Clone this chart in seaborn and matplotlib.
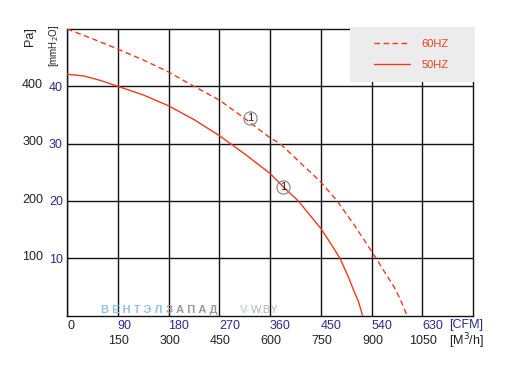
import matplotlib
matplotlib.use("Agg")
import matplotlib.pyplot as plt
from matplotlib.patches import Rectangle
import matplotlib.transforms as mtransforms
import pandas as pd
import seaborn as sns

# curve data: airflow in CFM, pressure in mmH2O
cfm_50 = [0, 30, 60, 90, 135, 180, 225, 270, 315, 360, 383, 410, 430, 450, 468, 484, 499, 510, 517, 524]
mm_50 = [42.1, 41.8, 41.0, 40.0, 38.5, 36.6, 34.2, 31.4, 28.2, 24.8, 22.5, 20.0, 17.6, 15.2, 12.5, 10.0, 6.7, 4.0, 2.4, 0]
cfm_60 = [0, 45, 90, 135, 180, 225, 270, 315, 360, 378, 410, 450, 479, 510, 530, 548, 565, 580, 592, 603]
mm_60 = [50, 48.3, 46.5, 44.6, 42.5, 40.0, 37.6, 34.4, 31.0, 30.0, 27.0, 23.3, 20.0, 15.7, 12.7, 10.0, 7.3, 5.0, 2.6, 0]

cfm_ticks = [0, 90, 180, 270, 360, 450, 540, 630]
m3h_labels = ["150", "300", "450", "600", "750", "900", "1050"]
mm_ticks = [10, 20, 30, 40]
pa_labels = [100, 200, 300, 400]
marker_pts = [(324, 34.5), (383, 22.4)]

red = "#ee3b1f"
blue = "#2b2a8c"
dark = "#222222"

sns.set_style("white")
plt.rcParams["font.family"] = ["Liberation Sans", "DejaVu Sans"]

fig = plt.figure(figsize=(5.10, 3.74), dpi=100)
ax = fig.add_axes([0.1314, 0.1564, 0.7961, 0.7661])

df50 = pd.DataFrame({"cfm": cfm_50, "mm": mm_50})
df60 = pd.DataFrame({"cfm": cfm_60, "mm": mm_60})
sns.lineplot(data=df60, x="cfm", y="mm", ax=ax, color=red, lw=1.0,
             linestyle=(0, (4, 2.5)), label="60HZ", sort=False, zorder=4)
sns.lineplot(data=df50, x="cfm", y="mm", ax=ax, color=red, lw=1.0,
             label="50HZ", sort=False, zorder=4)

ax.set_xlim(0, 720)
ax.set_ylim(0, 50)
ax.set_xticks(cfm_ticks)
ax.set_xticklabels([str(v) for v in cfm_ticks], fontsize=9, ha="left")
shift = mtransforms.ScaledTranslation(1 / 100, 0, fig.dpi_scale_trans)
for i, t in enumerate(ax.get_xticklabels()):
    t.set_color(dark if i == 0 else blue)
    t.set_transform(t.get_transform() + shift)
ax.set_yticks(mm_ticks)
ax.set_yticklabels([str(v) for v in mm_ticks], fontsize=9, color=blue)
ax.tick_params(length=0, pad=3)
ax.grid(True, color="#111111", lw=1.0)
ax.set_axisbelow(True)
for s in ax.spines.values():
    s.set_color("#111111")
    s.set_linewidth(1.0)
ax.set_xlabel("")
ax.set_ylabel("")

trans_x = ax.get_xaxis_transform()
trans_y = ax.get_yaxis_transform()
for v, lab in zip(cfm_ticks[1:], m3h_labels):
    ax.text(v + 2, -0.09, lab, transform=trans_x, ha="center", va="center",
            fontsize=9, color=dark)
ax.text(677, -0.033, "[CFM]", transform=trans_x, ha="left", va="center",
        fontsize=9, color=blue)
ax.text(677, -0.09, "[M$^3$/h]", transform=trans_x, ha="left", va="center",
        fontsize=9, color=dark)

for p in pa_labels:
    ax.text(-0.059, p / 10 + 0.2, str(p), transform=trans_y, ha="right",
            va="center", fontsize=9, color=dark)

fig.text(30 / 510, 1 - 36.5 / 374, "Pa]", rotation=90, ha="center",
         va="center", fontsize=9, color=dark)
fig.text(54 / 510, 1 - 45.5 / 374, "[mmH$_2$O]", rotation=90, ha="center",
         va="center", fontsize=7, color=dark)

# numbered markers on the curves
for x, y in marker_pts:
    ax.plot(x, y, marker="o", ms=9.5, mfc="none", mec="#808080", mew=0.8,
            zorder=5)
    ax.text(x, y, "1", ha="center", va="center", fontsize=8, color=dark,
            zorder=6)

# legend box
box = Rectangle((350 / 510, 1 - 82 / 374), 125 / 510, 55 / 374,
                transform=fig.transFigure, facecolor="#ececec",
                edgecolor="none", zorder=10, clip_on=False)
ax.add_patch(box)
leg = ax.legend(loc="center", bbox_to_anchor=(411.5 / 510, 1 - 54.5 / 374),
                bbox_transform=fig.transFigure, frameon=False, fontsize=8,
                handlelength=3.2, handletextpad=1.1, labelspacing=1.0,
                labelcolor=red)
leg.set_zorder(11)

# watermark
fig.text(101 / 510, 1 - 310 / 374, "В Е Н Т Э Л", fontsize=8, weight="bold",
         color="#8fc4e8", ha="left", va="center")
fig.text(166 / 510, 1 - 310 / 374, "З А П А Д", fontsize=8, weight="bold",
         color="#9a9a9a", ha="left", va="center")
fig.text(240 / 510, 1 - 310 / 374, "V-", fontsize=8, color="#a9c8e6",
         ha="left", va="center")
fig.text(251 / 510, 1 - 310 / 374, "W.BY", fontsize=8, color="#b4b4b4",
         ha="left", va="center")

fig.savefig("out.png", dpi=100)
